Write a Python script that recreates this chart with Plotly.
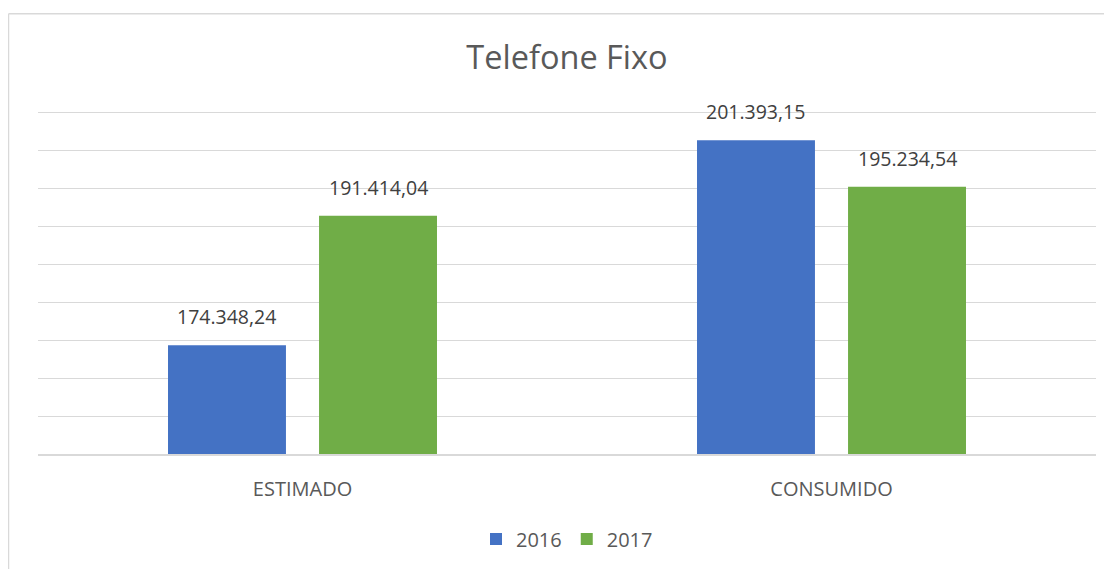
import plotly.graph_objects as go

categories = ["ESTIMADO", "CONSUMIDO"]
series_names = ["2016", "2017"]
values_2016 = [174348.24, 201393.15]
values_2017 = [191414.04, 195234.54]
colors = ["#4472C4", "#70AD47"]

def fmt_br(v):
    s = f"{v:,.2f}"
    return s.replace(",", "X").replace(".", ",").replace("X", ".")

FONT = "Open Sans"
bargap = 0.429
bargroupgap = 0.219

fig = go.Figure()
all_series = [values_2016, values_2017]
for name, vals, col in zip(series_names, all_series, colors):
    fig.add_trace(go.Bar(x=categories, y=vals, name=name, marker=dict(color=col, line=dict(width=0))))

annotations = []
n = len(all_series)
for j, vals in enumerate(all_series):
    for i, v in enumerate(vals):
        xpos = i + (j - (n - 1) / 2) * (1 - bargap) / n
        annotations.append(dict(x=xpos, y=v, xref="x", yref="y", text=fmt_br(v), showarrow=False,
                                yanchor="bottom", yshift=13,
                                font=dict(family=FONT, size=19.5, color="#404040")))

# page body has an 8px margin, so figure coordinates = screen - 8
W, H = 1104, 561
ml, mr, mt, mb = 30, 16, 101, 114
pw, ph = W - ml - mr, H - mt - mb
bx = (0.5 - ml) / pw
by = (ph + mt - 5.5) / ph

shapes = [
    dict(type="line", xref="paper", yref="paper", x0=bx, x1=bx, y0=-1, y1=by,
         line=dict(color="#d9d9d9", width=1.5)),
    dict(type="line", xref="paper", yref="paper", x0=bx, x1=1.2, y0=by, y1=by,
         line=dict(color="#d9d9d9", width=1.5)),
]

fig.update_layout(
    width=W, height=H,
    margin=dict(l=ml, r=mr, t=mt, b=mb),
    paper_bgcolor="white", plot_bgcolor="white",
    barmode="group", bargap=bargap, bargroupgap=bargroupgap,
    title=dict(text="Telefone Fixo", x=0.5, xref="paper", xanchor="center",
               y=1 - 50 / H, yanchor="middle",
               font=dict(family=FONT, size=32.5, color="#595959")),
    font=dict(family=FONT, color="#595959"),
    showlegend=True,
    legend=dict(orientation="h", x=0.5, xanchor="center", y=(H - mb - 531) / ph, yanchor="middle",
                font=dict(family=FONT, size=20, color="#595959"), traceorder="normal",
                itemwidth=30),
    annotations=annotations,
    shapes=shapes,
)
fig.update_yaxes(range=[160000, 205500], dtick=5000, tick0=160000, showticklabels=False,
                 showgrid=True, gridcolor="#d9d9d9", gridwidth=1.2, zeroline=False, showline=False)
fig.update_xaxes(showline=True, linecolor="#d9d9d9", linewidth=1.5, ticks="",
                 tickfont=dict(family=FONT, size=20, color="#595959"), ticklabelstandoff=16)

fig.write_html("out.html")
